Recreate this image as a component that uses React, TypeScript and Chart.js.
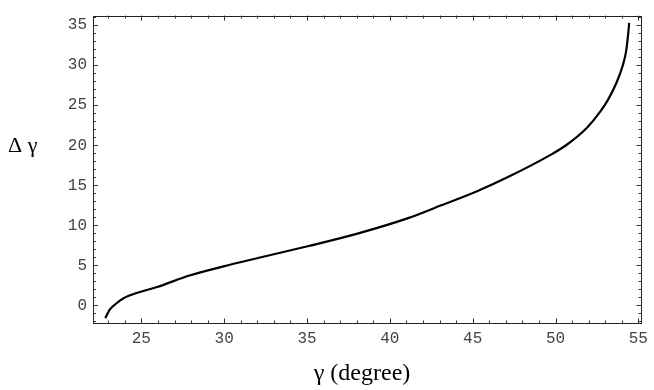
import React, { useEffect, useRef } from "react";
import { Chart, registerables } from "chart.js";

Chart.register(...registerables);

// Curve data
const gammaDeg = [22.82, 23.1, 23.5, 23.9, 24.9, 25.9, 27.9, 29.9, 32.1, 35.1, 38.1, 41.1, 43.1, 45.3, 47.1, 49.7, 50.7, 51.9, 52.7, 53.2, 53.7, 54.05, 54.25, 54.36, 54.45];
const deltaGamma = [-1.59, -0.5, 0.27, 0.87, 1.67, 2.26, 3.73, 4.84, 5.95, 7.42, 9.0, 10.9, 12.5, 14.3, 16.0, 18.8, 20.1, 22.2, 24.2, 25.8, 27.9, 29.9, 31.6, 33.4, 35.3];

// Axis ticks
const xTicks = [25, 30, 35, 40, 45, 50, 55];
const yTicks = [0, 5, 10, 15, 20, 25, 30, 35];
const xRange = [22.08, 55.2];
const yRange = [-2.26, 36.2];
const minorStep = 1;

const xTitle = "γ (degree)";
const yTitle = "Δ γ";

const framePlugin = {
  id: "frameTicks",
  afterDraw(chart: any) {
    const { ctx, chartArea: a, scales } = chart;
    const xs = scales.x;
    const ys = scales.y;
    ctx.save();
    ctx.strokeStyle = "#222";
    ctx.lineWidth = 1;
    ctx.strokeRect(Math.round(a.left) + 0.5, Math.round(a.top) + 0.5, Math.round(a.right - a.left) - 1, Math.round(a.bottom - a.top) - 1);
    ctx.strokeStyle = "#333";
    ctx.beginPath();
    for (let v = Math.ceil(xRange[0]); v <= xRange[1]; v += minorStep) {
      const major = xTicks.includes(v);
      const len = major ? 5 : 3;
      const px = Math.round(xs.getPixelForValue(v)) + 0.5;
      ctx.moveTo(px, a.bottom);
      ctx.lineTo(px, a.bottom - len);
      ctx.moveTo(px, a.top);
      ctx.lineTo(px, a.top + len);
    }
    for (let v = Math.ceil(yRange[0]); v <= yRange[1]; v += minorStep) {
      const major = yTicks.includes(v);
      const len = major ? 5 : 3;
      const py = Math.round(ys.getPixelForValue(v)) + 0.5;
      ctx.moveTo(a.left, py);
      ctx.lineTo(a.left + len, py);
      ctx.moveTo(a.right, py);
      ctx.lineTo(a.right - len, py);
    }
    ctx.stroke();

    ctx.fillStyle = "#000";
    ctx.textBaseline = "alphabetic";
    ctx.font = "24px 'Liberation Serif', 'Times New Roman', serif";
    ctx.textAlign = "center";
    ctx.fillText(xTitle, 362, 380);
    ctx.font = "22px 'Liberation Serif', 'Times New Roman', serif";
    ctx.textAlign = "left";
    ctx.fillText(yTitle, 8, 152);
    ctx.restore();
  },
};

export default function App() {
  const ref = useRef<HTMLCanvasElement>(null);
  useEffect(() => {
    if (!ref.current) return;
    const tickFont = { family: "'Liberation Mono', 'Courier New', monospace", size: 16 };
    const chart = new Chart(ref.current, {
      type: "line",
      data: {
        datasets: [
          {
            data: gammaDeg.map((x, i) => ({ x, y: deltaGamma[i] })),
            borderColor: "#000",
            borderWidth: 2.2,
            pointRadius: 0,
            fill: false,
            cubicInterpolationMode: "monotone",
          },
        ],
      },
      options: {
        animation: false,
        responsive: true,
        maintainAspectRatio: false,
        layout: { padding: { top: 1, right: 10, left: 0, bottom: 0 } },
        plugins: { legend: { display: false }, tooltip: { enabled: false } },
        scales: {
          x: {
            type: "linear",
            min: xRange[0],
            max: xRange[1],
            grid: { display: false, drawTicks: false },
            border: { display: false },
            afterBuildTicks: (s: any) => {
              s.ticks = xTicks.map((v) => ({ value: v }));
            },
            afterFit: (s: any) => {
              s.height = 66.5;
            },
            ticks: { font: tickFont, color: "#444", padding: 6, maxRotation: 0 },
          },
          y: {
            type: "linear",
            min: yRange[0],
            max: yRange[1],
            grid: { display: false, drawTicks: false },
            border: { display: false },
            afterBuildTicks: (s: any) => {
              s.ticks = yTicks.map((v) => ({ value: v }));
            },
            afterFit: (s: any) => {
              s.width = 93;
            },
            ticks: { font: tickFont, color: "#444", padding: 6 },
          },
        },
      },
      plugins: [framePlugin],
    } as any);
    return () => chart.destroy();
  }, []);
  return (
    <div style={{ position: "absolute", left: 0, top: 0, width: 654, height: 390, background: "#fff" }}>
      <canvas ref={ref} />
    </div>
  );
}
